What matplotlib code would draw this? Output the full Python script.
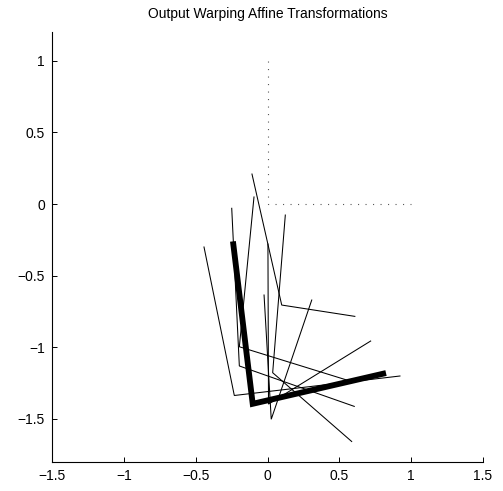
import matplotlib
matplotlib.use("Agg")
import matplotlib.pyplot as plt

# warped unit frames: each one is top -> corner -> end
top_x = [-0.108, -0.442, -0.249, -0.094, 0.124, -0.024, 0.003]
top_y = [0.209, -0.300, -0.030, 0.049, -0.077, -0.635, -0.279]
corner_x = [0.099, -0.231, -0.196, -0.196, 0.036, 0.026, 0.007]
corner_y = [-0.705, -1.336, -1.130, -0.996, -1.177, -1.502, -1.396]
end_x = [0.608, 0.922, 0.604, 0.574, 0.586, 0.308, 0.718]
end_y = [-0.784, -1.200, -1.412, -1.235, -1.657, -0.670, -0.956]

# mean transformation (thick)
mean_x = [-0.238, -0.103, 0.805]
mean_y = [-0.281, -1.394, -1.184]

# identity frame (dotted)
ident_x = [0, 0, 1]
ident_y = [1, 0, 0]

x_ticks = [-1.5, -1, -0.5, 0, 0.5, 1, 1.5]
y_ticks = [-1.5, -1, -0.5, 0, 0.5, 1]

plt.rcParams['font.family'] = ['Liberation Sans', 'DejaVu Sans']
plt.rcParams['lines.scale_dashes'] = False

fig = plt.figure(figsize=(5.03, 4.91), dpi=100)
ax = fig.add_axes([52 / 503, 29 / 491, 431 / 503, 430 / 491])

ax.plot(ident_x, ident_y, color='0.35', lw=0.8, linestyle=(0, (0.8, 4.6)))

for i in range(len(top_x)):
    ax.plot([top_x[i], corner_x[i], end_x[i]],
            [top_y[i], corner_y[i], end_y[i]],
            color='black', lw=0.75, solid_joinstyle='miter')

ax.plot(mean_x, mean_y, color='black', lw=4.2, solid_joinstyle='miter')

ax.set_xlim(-1.5, 1.5)
ax.set_ylim(-1.8, 1.2)
ax.set_xticks(x_ticks)
ax.set_yticks(y_ticks)
ax.set_xticklabels([f"{t:g}".replace('-', '\u2212') for t in x_ticks])
ax.set_yticklabels([f"{t:g}".replace('-', '\u2212') for t in y_ticks])

ax.spines['top'].set_visible(False)
ax.spines['right'].set_visible(False)
for s in ('left', 'bottom'):
    ax.spines[s].set_linewidth(0.8)
ax.tick_params(direction='in', length=3.5, width=0.7, labelsize=10, pad=5)

ax.set_title("Output Warping Affine Transformations", fontsize=10, pad=10)

fig.savefig("out.png", dpi=100)
